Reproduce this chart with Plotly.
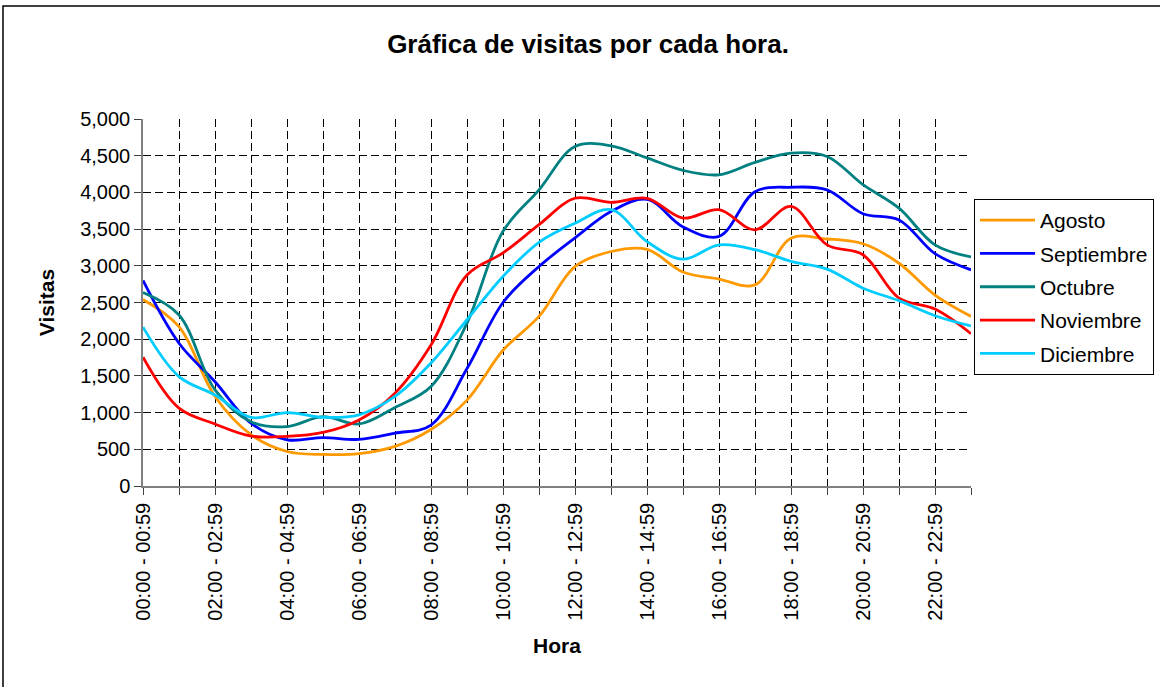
import plotly.graph_objects as go

# Hour buckets shown on the x axis
horas = [f"{h:02d}:00 - {h:02d}:59" for h in range(24)]

# Visits per hour, one list per month
agosto = [2540, 2170, 1220, 700, 470, 430, 440, 540, 770, 1170, 1850, 2310,
          2990, 3195, 3225, 2915, 2820, 2740, 3375, 3365, 3300, 3035, 2600, 2310]
septiembre = [2800, 1945, 1420, 855, 630, 660, 635, 720, 830, 1600, 2500, 2990,
              3380, 3740, 3905, 3530, 3400, 4010, 4070, 4035, 3710, 3625, 3165, 2945]
octubre = [2635, 2330, 1310, 875, 810, 945, 845, 1070, 1355, 2220, 3470, 4035,
           4625, 4635, 4470, 4300, 4240, 4410, 4535, 4490, 4105, 3785, 3285, 3120]
noviembre = [1755, 1060, 845, 680, 675, 730, 900, 1265, 1920, 2875, 3175, 3560,
             3920, 3865, 3920, 3650, 3765, 3490, 3810, 3285, 3150, 2560, 2410, 2075]
diciembre = [2165, 1490, 1240, 935, 1000, 935, 970, 1220, 1675, 2265, 2855, 3320,
             3580, 3765, 3330, 3090, 3285, 3220, 3060, 2955, 2695, 2525, 2320, 2180]

meses = ["Agosto", "Septiembre", "Octubre", "Noviembre", "Diciembre"]
series = [agosto, septiembre, octubre, noviembre, diciembre]
colores = ["#FF9900", "#0000FF", "#008080", "#FF0000", "#00CCFF"]

FONT = "Liberation Sans, Arial, sans-serif"
W, H = 1160, 687
L, R, T, B = 143, 189, 119, 201
Y_MAX = 5000

fig = go.Figure()
for nombre, valores, color in zip(meses, series, colores):
    fig.add_trace(go.Scatter(
        x=horas, y=valores, name=nombre, mode="lines",
        line=dict(color=color, width=2.8, shape="spline", smoothing=1.0),
        legendgroup=nombre,
    ))

# outer frame of the chart area, expressed in plot-paper units
pw, ph = W - L - R, H - T - B
def px_x(p):
    return (p - L) / pw
def px_y(p):
    return (H - B - p) / ph

fig.add_shape(type="rect", xref="paper", yref="paper",
              x0=px_x(3), x1=px_x(1200), y0=px_y(700), y1=px_y(6),
              line=dict(color="#000000", width=1.5), layer="below")

# the plot area has no grid along its top and right edges
fig.add_shape(type="line", xref="x", yref="y",
              x0=horas[0], x1=horas[-1], y0=Y_MAX, y1=Y_MAX,
              line=dict(color="white", width=3), layer="below")
fig.add_shape(type="line", xref="x", yref="y",
              x0=horas[-1], x1=horas[-1], y0=0, y1=Y_MAX,
              line=dict(color="white", width=3), layer="below")

fig.update_layout(
    width=W, height=H,
    margin=dict(l=L, r=R, t=T, b=B, autoexpand=False),
    paper_bgcolor="white", plot_bgcolor="white",
    font=dict(family=FONT, size=20, color="black"),
    title=dict(text="<b>Gráfica de visitas por cada hora.</b>",
               x=588 / W, xref="container", xanchor="center",
               y=1 - 44 / H, yref="container", yanchor="middle",
               font=dict(family=FONT, size=26, color="black")),
    showlegend=True,
    legend=dict(x=px_x(974), y=px_y(199), xanchor="left", yanchor="top",
                bgcolor="white", bordercolor="black", borderwidth=1,
                font=dict(family=FONT, size=21, color="black"),
                itemwidth=55, tracegroupgap=3, traceorder="grouped"),
)

fig.update_xaxes(
    type="category", range=[0, 23],
    tickmode="array", tickvals=horas,
    ticktext=[h if i % 2 == 0 else "" for i, h in enumerate(horas)],
    tickangle=-90, ticks="outside", ticklen=7, tickcolor="#404040",
    showline=True, linecolor="#808080", linewidth=1.5,
    showgrid=True, gridcolor="black", gridwidth=1, griddash="8px,4px",
    title=dict(text="<b>Hora</b>", font=dict(family=FONT, size=21), standoff=19),
    zeroline=False,
)
fig.update_yaxes(
    range=[0, Y_MAX], dtick=500, tickformat=",",
    ticks="outside", ticklen=7, tickcolor="#404040",
    showline=True, linecolor="#808080", linewidth=1.5,
    showgrid=True, gridcolor="black", gridwidth=1, griddash="8px,4px",
    title=dict(text="<b>Visitas</b>", font=dict(family=FONT, size=21), standoff=20),
    zeroline=False,
)

fig.write_html("out.html")
